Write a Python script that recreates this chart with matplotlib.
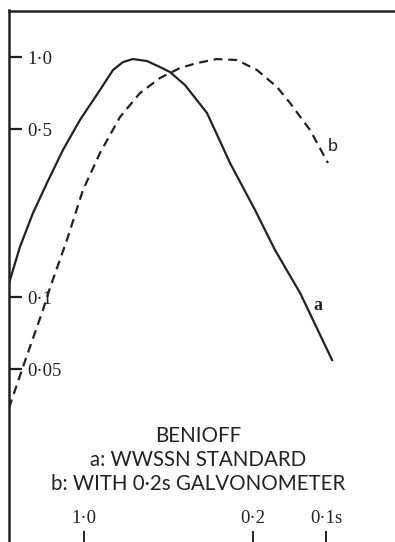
import matplotlib
matplotlib.use("Agg")
import matplotlib.pyplot as plt

# Data: period (s) vs relative magnification
period_a = [2.04, 1.839, 1.624, 1.422, 1.221, 1.039, 0.8587, 0.7587, 0.6898, 0.6275, 0.5491,
            0.4853, 0.4413, 0.3826, 0.3102, 0.2492, 0.1965, 0.1625, 0.128, 0.0944]
amp_a = [0.114, 0.1616, 0.2239, 0.2985, 0.41, 0.5464, 0.7289, 0.8827, 0.9532, 0.981, 0.9624,
         0.9086, 0.866, 0.7647, 0.5843, 0.3617, 0.2305, 0.157, 0.104, 0.0546]

period_b = [2.04, 1.787, 1.477, 1.382, 1.176, 1.0095, 0.8587, 0.7098, 0.587, 0.4853, 0.4012,
            0.3412, 0.2821, 0.2332, 0.1928, 0.1594, 0.1408, 0.1164, 0.0982]
amp_b = [0.0345, 0.0511, 0.0883, 0.109, 0.1728, 0.2792, 0.3981, 0.5623, 0.7079, 0.8177, 0.9,
         0.944, 0.981, 0.9716, 0.8827, 0.7499, 0.643, 0.4965, 0.362]

y_ticks = [1.0, 0.5, 0.1, 0.05]
y_tick_labels = ["1·0", "0·5", "0·1", "0·05"]
x_ticks = [1.0, 0.2, 0.1]
x_tick_labels = ["1·0", "0·2", "0·1s"]

title_lines = ["BENIOFF", "a: WWSSN STANDARD", "b: WITH 0·2s GALVONOMETER"]

W, H = 395, 542
fig = plt.figure(figsize=(W / 100, H / 100), dpi=100)
ax = fig.add_axes([9 / W, 0, 1 - 9 / W, 1 - 10.5 / H])
ax.set_xscale("log")
ax.set_yscale("log")
ax.set_xlim(2.04, 0.0519)
ax.set_ylim(0.00953, 1.563)

ink = "#222222"
ax.plot(period_a, amp_a, color=ink, lw=1.6, solid_joinstyle="round")
ax.plot(period_b, amp_b, color=ink, lw=1.6, linestyle=(0, (4, 2.6)))

for s in ["right", "bottom"]:
    ax.spines[s].set_visible(False)
for s in ["left", "top"]:
    ax.spines[s].set_color(ink)
    ax.spines[s].set_linewidth(1.8)

ax.minorticks_off()
ax.set_yticks(y_ticks)
ax.set_yticklabels(y_tick_labels)
ax.set_xticks(x_ticks)
ax.set_xticklabels(x_tick_labels)
ax.tick_params(axis="y", direction="in", length=9, width=1.6, color=ink,
               pad=-13.5, labelsize=13.5, labelcolor=ink)
ax.tick_params(axis="x", direction="in", length=8, width=1.4, color=ink,
               pad=-10.5, labelsize=13.5, labelcolor=ink)
for lbl in ax.get_yticklabels():
    lbl.set_horizontalalignment("left")
    lbl.set_family("Liberation Serif")
for lbl in ax.get_xticklabels():
    lbl.set_verticalalignment("bottom")
    lbl.set_family("Liberation Serif")

# curve labels
ax.annotate("a", xy=(period_a[-2], amp_a[-2]), xytext=(9.4, -9.4), textcoords="offset points",
            fontsize=13, color=ink, family="Liberation Serif", fontweight="bold",
            ha="left", va="center")
ax.annotate("b", xy=(period_b[-1], amp_b[-1]), xytext=(0, 12.5), textcoords="offset points",
            fontsize=13, color=ink, family="Lato", ha="left", va="center")

ys = [436, 460, 484]
for t, yp in zip(title_lines, ys):
    fig.text(198 / W, 1 - yp / H, t, ha="center", va="center", fontsize=14.8,
             family="Lato", color=ink)

fig.savefig("out.png", dpi=100, facecolor="white")
